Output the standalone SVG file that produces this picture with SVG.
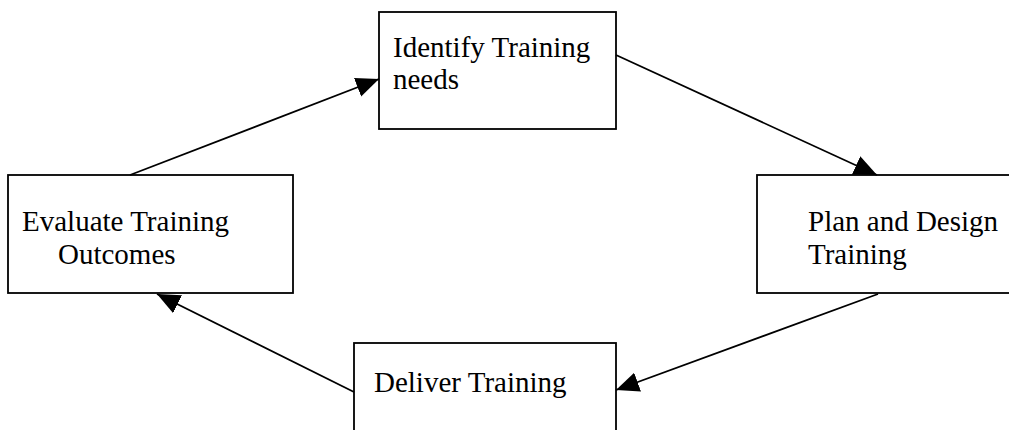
<svg xmlns="http://www.w3.org/2000/svg" width="1009" height="430" viewBox="0 0 1009 430">
<defs>
<style>
.box{fill:#fff;stroke:#000;stroke-width:1.8}
.lbl{font-family:"Liberation Serif","Times New Roman",serif;font-size:29px;fill:#000}
.con{stroke:#000;stroke-width:1.8;fill:none;marker-end:url(#ah)}
</style>
<marker id="ah" markerUnits="userSpaceOnUse" markerWidth="24" markerHeight="22" refX="23" refY="10" orient="auto">
<path d="M0,0 L23,10 L0,20 z" fill="#000"/>
</marker>
</defs>
<rect width="1009" height="430" fill="#fff"/>
<g id="identify">
<rect class="box" x="379" y="12" width="237" height="117"/>
<text class="lbl" x="393" y="57">Identify Training</text>
<text class="lbl" x="393" y="89">needs</text>
</g>
<g id="plan">
<rect class="box" x="757" y="175" width="260" height="118"/>
<text class="lbl" x="808" y="231">Plan and Design</text>
<text class="lbl" x="808" y="264">Training</text>
</g>
<g id="evaluate">
<rect class="box" x="8" y="175" width="285" height="118"/>
<text class="lbl" x="22" y="231">Evaluate Training</text>
<text class="lbl" x="58" y="264">Outcomes</text>
</g>
<g id="deliver">
<rect class="box" x="354" y="343" width="262" height="100"/>
<text class="lbl" x="374" y="392">Deliver Training</text>
</g>
<g id="connectors">
<line class="con" x1="130" y1="175" x2="379" y2="79"/>
<line class="con" x1="616" y1="55" x2="877" y2="175"/>
<line class="con" x1="878" y1="294" x2="616" y2="390"/>
<line class="con" x1="354" y1="392" x2="157" y2="294"/>
</g>
</svg>
